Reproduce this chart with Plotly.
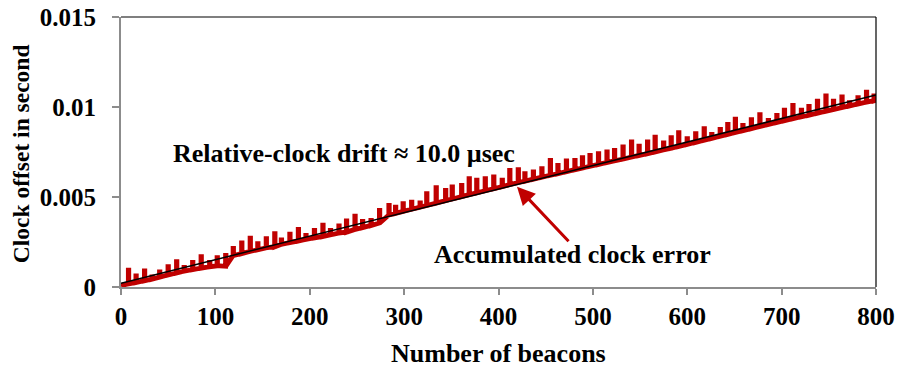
import plotly.graph_objects as go

# ---- data ----
spike_beacon = [8, 16, 25, 33, 41, 50, 59, 67, 76, 85, 94, 102, 111, 119, 128, 137, 145, 154, 163, 170,
                179, 188, 196, 205, 214, 222, 231, 239, 248, 256, 265, 274,
                284, 291, 299, 308, 317, 324, 334, 344, 351, 361, 369, 377, 386, 395, 404, 412, 421, 428,
                437, 446, 455, 463, 472, 481, 489, 497, 506, 515, 523, 532, 541, 549,
                558, 566, 575, 583, 591, 600, 609, 618, 626, 635, 643, 651, 659, 668, 677, 686, 695, 703,
                712, 721, 729, 738, 747, 755, 764, 772, 781, 790, 798]
spike_peak = [0.00093, 0.00062, 0.00089, 0.00056, 0.00084, 0.00113, 0.00141, 0.00109, 0.00136, 0.00168,
              0.00136, 0.00163, 0.00175, 0.00215, 0.00245, 0.00272, 0.00241, 0.00268, 0.00296, 0.00262,
              0.00293, 0.00320, 0.00287, 0.00315, 0.00343, 0.00315, 0.00339, 0.00367, 0.00394, 0.00365,
              0.00370, 0.00425,
              0.00454, 0.00444, 0.00463, 0.00472, 0.00467, 0.00518, 0.00552, 0.00537, 0.00556, 0.00565,
              0.00602, 0.00593, 0.00602, 0.00611, 0.00593, 0.00648, 0.00652, 0.00630, 0.00639, 0.00657,
              0.00704, 0.00676, 0.00700, 0.00704, 0.00719, 0.00731, 0.00741, 0.00750, 0.00759, 0.00778,
              0.00806, 0.00782,
              0.00806, 0.00833, 0.00800, 0.00830, 0.00857, 0.00824, 0.00852, 0.00880, 0.00848, 0.00876,
              0.00904, 0.00932, 0.00898, 0.00930, 0.00957, 0.00926, 0.00954, 0.00982, 0.01009, 0.00982,
              0.01004, 0.01032, 0.01061, 0.01032, 0.01056, 0.01024, 0.01052, 0.01082, 0.01061]
spike_base = [0.00017, 0.00025, 0.00035, 0.00044, 0.00055, 0.00067, 0.00078, 0.00088, 0.00097, 0.00105,
              0.00113, 0.00118, 0.00115, 0.00175, 0.00186, 0.00198, 0.00207, 0.00218, 0.00224, 0.00237,
              0.00247, 0.00256, 0.00265, 0.00273, 0.00281, 0.00290, 0.00300, 0.00305, 0.00320, 0.00330,
              0.00342, 0.00356,
              0.00400, 0.00409, 0.00420, 0.00432, 0.00444, 0.00453, 0.00466, 0.00480, 0.00489, 0.00502,
              0.00513, 0.00523, 0.00535, 0.00546, 0.00558, 0.00569, 0.00580, 0.00588, 0.00599, 0.00610,
              0.00621, 0.00630, 0.00641, 0.00652, 0.00661, 0.00671, 0.00681, 0.00692, 0.00701, 0.00711,
              0.00722, 0.00731,
              0.00741, 0.00751, 0.00762, 0.00771, 0.00781, 0.00792, 0.00804, 0.00816, 0.00826, 0.00838,
              0.00848, 0.00859, 0.00869, 0.00880, 0.00892, 0.00903, 0.00914, 0.00924, 0.00935, 0.00946,
              0.00955, 0.00966, 0.00977, 0.00986, 0.00997, 0.01006, 0.01017, 0.01027, 0.01035]
edge_beacon = [0, 800]
edge_value = [0.00008, 0.01038]

trend_beacon = [0, 800]
trend_value = [0.00021, 0.01067]

x_ticks = [0, 100, 200, 300, 400, 500, 600, 700, 800]
y_ticks = [0, 0.005, 0.01, 0.015]
y_tick_labels = ["0", "0.005", "0.01", "0.015"]

drift_label = "Relative-clock drift ≈ 10.0 µsec"
error_label = "Accumulated clock error"
x_title = "Number of beacons"
y_title = "Clock offset in second"

# ---- build the red series from the arrays (flat-topped narrow spikes) ----
half = 0.22
red_x = [edge_beacon[0]]
red_y = [edge_value[0]]
for b, base, peak in zip(spike_beacon, spike_base, spike_peak):
    red_x += [b - half, b - half, b + half, b + half]
    red_y += [base, peak, peak, base]
red_x.append(edge_beacon[1])
red_y.append(edge_value[1])

RED = "#C00000"
FONT = "Liberation Serif, Times New Roman, serif"


def f(size):
    return dict(family=FONT, size=size, color="black", weight="bold")


fig = go.Figure()
fig.add_trace(go.Scatter(x=red_x, y=red_y, mode="lines",
                         line=dict(color=RED, width=4.8), hoverinfo="skip"))
fig.add_trace(go.Scatter(x=trend_beacon, y=trend_value, mode="lines",
                         line=dict(color="black", width=1.5), hoverinfo="skip"))

fig.update_layout(
    width=898, height=367,
    margin=dict(l=121, r=22, t=17, b=80, autoexpand=False),
    paper_bgcolor="white", plot_bgcolor="white",
    showlegend=False,
    font=f(25),
    xaxis=dict(range=[0, 800], tickvals=x_ticks, showgrid=False, zeroline=False,
               showline=True, linecolor="#8c8c8c", linewidth=2,
               ticks="outside", ticklen=6, tickwidth=2, tickcolor="#8c8c8c",
               tickfont=f(25), automargin=False),
    yaxis=dict(range=[0, 0.015], tickvals=y_ticks, ticktext=y_tick_labels,
               showgrid=False, zeroline=False,
               showline=True, linecolor="#8c8c8c", linewidth=2,
               ticks="outside", ticklen=7, tickwidth=2, tickcolor="#8c8c8c",
               tickfont=f(25), ticklabelstandoff=11, automargin=False),
    shapes=[
        dict(type="line", xref="paper", yref="paper", x0=0, x1=1, y0=1, y1=1,
             line=dict(color="black", width=1.2)),
        dict(type="line", xref="paper", yref="paper", x0=1, x1=1, y0=0, y1=1,
             line=dict(color="black", width=1.2)),
    ],
    annotations=[
        dict(x=0.5, y=-0.2456, xref="paper", yref="paper", text=x_title, showarrow=False,
             xanchor="center", yanchor="middle", font=f(26)),
        dict(x=-0.133, y=0.494, xref="paper", yref="paper", text=y_title, showarrow=False,
             xanchor="center", yanchor="middle", textangle=-90, font=f(23.5)),
        dict(x=236.5, y=0.00742, xref="x", yref="y", text=drift_label, showarrow=False,
             xanchor="center", yanchor="middle", font=f(26)),
        dict(x=477.9, y=0.00178, xref="x", yref="y", text=error_label, showarrow=False,
             xanchor="center", yanchor="middle", font=f(26)),
        dict(x=419.6, y=0.00557, xref="x", yref="y", text="", showarrow=True,
             ax=53, ay=56, arrowcolor=RED, arrowwidth=3, arrowhead=2, arrowsize=1.2,
             standoff=0),
    ],
)

fig.write_html("out.html", config={"displayModeBar": False},
               post_script="document.body.style.margin='0px';")
